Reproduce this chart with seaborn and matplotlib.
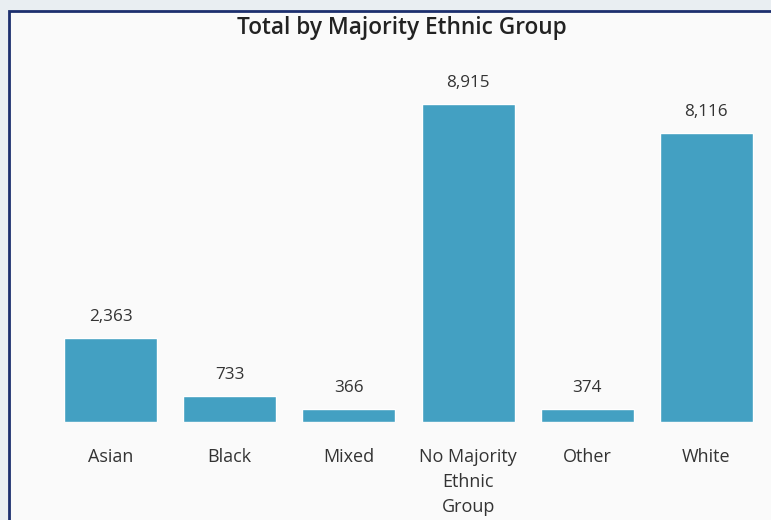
import matplotlib
matplotlib.use('Agg')
import matplotlib.pyplot as plt
import seaborn as sns
import pandas as pd
from matplotlib.patches import Rectangle

# data
groups = ['Asian', 'Black', 'Mixed', 'No Majority\nEthnic\nGroup', 'Other', 'White']
totals = [2363, 733, 366, 8915, 374, 8116]

W, H = 771, 520
sns.set_theme(style='white')
plt.rcParams['font.family'] = ['Open Sans', 'DejaVu Sans']

fig = plt.figure(figsize=(W / 100, H / 100), dpi=100)
fig.patch.set_facecolor('#e9eef2')

# card with dark border, kept behind the axes
card = Rectangle((9 / W, -0.05), 1.0, 1 - 11 / H + 0.05, transform=fig.transFigure,
                 facecolor='#fafafa', edgecolor='#1c2f6e', linewidth=2, zorder=-10)
fig.patches.append(card)

ax = fig.add_axes([51 / W, 1 - 422 / H, (766 - 51) / W, (422 - 60) / H])
ax.set_facecolor('none')

df = pd.DataFrame({'group': groups, 'total': totals})
sns.barplot(data=df, x='group', y='total', color='#43a0c2', saturation=1,
            width=0.78, ax=ax)

ax.set_ylim(0, 8915 * 362 / 318)
for p, v in zip(ax.patches, totals):
    ax.annotate(f'{v:,}', (p.get_x() + p.get_width() / 2, p.get_height()),
                xytext=(0, 9), textcoords='offset points', ha='center', va='bottom',
                fontsize=12.3, color='#333333')

ax.set_xlabel('')
ax.set_ylabel('')
ax.set_yticks([])
ax.tick_params(axis='x', length=0, pad=18.5, labelsize=13, labelcolor='#333333')
for lbl in ax.get_xticklabels():
    lbl.set_verticalalignment('top')
    lbl.set_linespacing(1.52)
sns.despine(ax=ax, left=True, bottom=True)

fig.text(402 / W, 1 - 28 / H, 'Total by Majority Ethnic Group', ha='center', va='center',
         fontsize=16.3, fontweight='semibold', color='#222222')

fig.savefig('out.png', dpi=100, facecolor=fig.get_facecolor())
plt.close(fig)
